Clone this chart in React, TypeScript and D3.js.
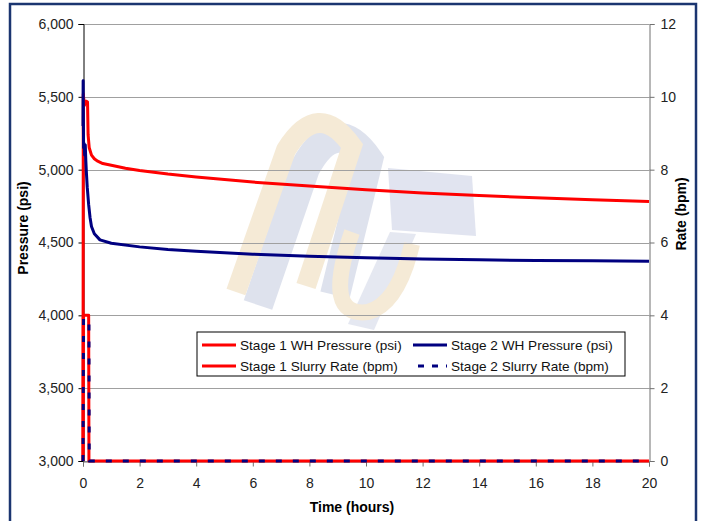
import React, { useEffect, useRef } from 'react';
import * as d3 from 'd3';

// time in hours, pressures in psi, rates in bpm
const stage1Time = [0, 0.01, 0.05, 0.08, 0.12, 0.16, 0.18, 0.22, 0.3, 0.4, 0.5, 0.7, 1, 1.5, 2, 3, 4, 5, 6, 8, 10, 12, 14, 16, 18, 20];
const stage1Pressure = [3000, 5520, 5440, 5470, 5470, 5465, 5240, 5150, 5100, 5075, 5060, 5042, 5030, 5010, 4995, 4970, 4950, 4932, 4915, 4888, 4862, 4840, 4822, 4807, 4794, 4782];

const stage2Time = [0, 0.005, 0.02, 0.04, 0.06, 0.08, 0.1, 0.12, 0.15, 0.2, 0.25, 0.3, 0.4, 0.6, 1, 2, 3, 4, 6, 8, 10, 12, 14, 16, 18, 20];
const stage2Pressure = [5300, 5610, 5150, 5180, 5100, 5170, 5060, 4980, 4880, 4760, 4670, 4610, 4560, 4518, 4495, 4470, 4452, 4440, 4420, 4405, 4395, 4387, 4381, 4377, 4374, 4372];

const stage1RateTime = [0, 0.01, 0.2, 0.21, 20];
const stage1Rate = [0, 4, 4, 0, 0];
const stage2RateTime = [0, 0.02, 0.21, 0.22, 20];
const stage2Rate = [0, 3.9, 3.9, 0, 0];

const pressureTicks = [3000, 3500, 4000, 4500, 5000, 5500, 6000];
const rateTicks = [0, 2, 4, 6, 8, 10, 12];
const timeTicks = [0, 2, 4, 6, 8, 10, 12, 14, 16, 18, 20];

const legendItems = [
  { label: 'Stage 1 WH Pressure (psi)', color: '#ff0000', dash: null },
  { label: 'Stage 2 WH Pressure (psi)', color: '#000080', dash: null },
  { label: 'Stage 1 Slurry Rate (bpm)', color: '#ff0000', dash: null },
  { label: 'Stage 2 Slurry Rate (bpm)', color: '#000080', dash: '6,8' },
];

const FONT = "'Liberation Sans', Arial, sans-serif";

const App = () => {
  const svgRef = useRef<SVGSVGElement>(null);

  useEffect(() => {
    const svg = d3.select(svgRef.current);
    svg.selectAll('*').remove();

    const width = 702;
    const height = 521;
    const margin = { top: 24, right: 53, bottom: 60, left: 83 };

    const x = d3.scaleLinear().domain([0, 20]).range([margin.left, width - margin.right]);
    const yP = d3.scaleLinear().domain([3000, 6000]).range([height - margin.bottom, margin.top]);
    const yR = d3.scaleLinear().domain([0, 12]).range([height - margin.bottom, margin.top]);

    // outer frame
    svg.append('rect')
      .attr('x', 10).attr('y', 4)
      .attr('width', 686).attr('height', 540)
      .attr('fill', '#fff')
      .attr('stroke', '#1b3570')
      .attr('stroke-width', 2.5);

    // faint logo watermark
    const wm = svg.append('g').attr('opacity', 0.38);
    wm.append('path')
      .attr('d', 'M 258 305 L 305 168 Q 335 112 368 160 L 335 295')
      .attr('fill', 'none').attr('stroke', '#aab4d2').attr('stroke-width', 30);
    wm.append('path')
      .attr('d', 'M 236 292 L 286 150 Q 318 98 352 146 L 306 286')
      .attr('fill', 'none').attr('stroke', '#e6c994').attr('stroke-width', 20);
    wm.append('path')
      .attr('d', 'M 388 168 L 472 176 L 476 236 L 392 230 Z')
      .attr('fill', '#b3bbd8');
    wm.append('path')
      .attr('d', 'M 390 232 L 416 234 L 374 330 L 348 324 Z')
      .attr('fill', '#bcc3dc');
    wm.append('path')
      .attr('d', 'M 352 232 Q 322 318 368 312 Q 398 304 412 244')
      .attr('fill', 'none').attr('stroke', '#e6c994').attr('stroke-width', 16);

    // gridlines
    svg.append('g')
      .selectAll('line')
      .data(pressureTicks)
      .join('line')
      .attr('x1', margin.left).attr('x2', width - margin.right)
      .attr('y1', d => Math.round(yP(d)) + 0.5).attr('y2', d => Math.round(yP(d)) + 0.5)
      .attr('stroke', '#a0a0a0');

    // left axis
    const gL = svg.append('g')
      .attr('transform', `translate(${margin.left + 0.5},0)`)
      .call(d3.axisLeft(yP).tickValues(pressureTicks).tickFormat(d3.format(',')).tickSize(5).tickPadding(5));
    gL.select('.domain').attr('stroke', '#000');
    gL.selectAll('line').attr('stroke', '#000');

    // right axis
    const gR = svg.append('g')
      .attr('transform', `translate(${width - margin.right + 0.5},0)`)
      .call(d3.axisRight(yR).tickValues(rateTicks).tickSize(5).tickPadding(6));
    gR.select('.domain').attr('stroke', '#707070');
    gR.selectAll('line').attr('stroke', '#707070');

    // bottom axis
    const gB = svg.append('g')
      .attr('transform', `translate(0,${height - margin.bottom + 0.5})`)
      .call(d3.axisBottom(x).tickValues(timeTicks).tickSize(5).tickPadding(12));
    gB.select('.domain').attr('stroke', '#707070');
    gB.selectAll('line').attr('stroke', '#707070');

    svg.selectAll('.tick text')
      .attr('font-family', FONT)
      .attr('font-size', 14)
      .attr('fill', '#222');

    // axis titles
    svg.append('text')
      .attr('transform', `translate(28,228) rotate(-90)`)
      .attr('text-anchor', 'middle')
      .attr('font-family', FONT).attr('font-size', 14).attr('font-weight', 'bold')
      .text('Pressure (psi)');
    svg.append('text')
      .attr('transform', `translate(686,214) rotate(-90)`)
      .attr('text-anchor', 'middle')
      .attr('font-family', FONT).attr('font-size', 14).attr('font-weight', 'bold')
      .text('Rate (bpm)');
    svg.append('text')
      .attr('x', 352).attr('y', 512)
      .attr('text-anchor', 'middle')
      .attr('font-family', FONT).attr('font-size', 14).attr('font-weight', 'bold')
      .text('Time (hours)');

    const lineP = d3.line<[number, number]>().x(d => x(d[0])).y(d => yP(d[1]));
    const lineR = d3.line<[number, number]>().x(d => x(d[0])).y(d => yR(d[1]));

    const series = [
      { d: lineP(d3.zip(stage1Time, stage1Pressure) as [number, number][]), color: '#ff0000', dash: null },
      { d: lineP(d3.zip(stage2Time, stage2Pressure) as [number, number][]), color: '#000080', dash: null },
      { d: lineR(d3.zip(stage1RateTime, stage1Rate) as [number, number][]), color: '#ff0000', dash: null },
      { d: lineR(d3.zip(stage2RateTime, stage2Rate) as [number, number][]), color: '#000080', dash: '6,11' },
    ];

    svg.append('g')
      .selectAll('path')
      .data(series)
      .join('path')
      .attr('d', s => s.d)
      .attr('fill', 'none')
      .attr('stroke', s => s.color)
      .attr('stroke-width', 3)
      .attr('stroke-dasharray', s => s.dash)
      .attr('stroke-linejoin', 'round');

    // legend
    const lg = svg.append('g').attr('transform', 'translate(197,332)');
    lg.append('rect')
      .attr('width', 428).attr('height', 44)
      .attr('fill', '#fff').attr('stroke', '#000');
    const cols = [5, 216];
    const rows = [13, 34];
    legendItems.forEach((item, i) => {
      const cx = cols[i % 2];
      const cy = rows[Math.floor(i / 2)];
      lg.append('line')
        .attr('x1', cx).attr('x2', cx + 34)
        .attr('y1', cy).attr('y2', cy)
        .attr('stroke', item.color).attr('stroke-width', 3)
        .attr('stroke-dasharray', item.dash)
        .attr('stroke-dashoffset', item.dash ? -5 : null);
      lg.append('text')
        .attr('x', cx + 38).attr('y', cy + 5)
        .attr('font-family', FONT).attr('font-size', 13.6)
        .attr('fill', '#111')
        .text(item.label);
    });
  }, []);

  return (
    <svg
      ref={svgRef}
      width={702}
      height={521}
      style={{ position: 'absolute', left: 0, top: 0, background: '#fff' }}
    />
  );
};

export default App;
